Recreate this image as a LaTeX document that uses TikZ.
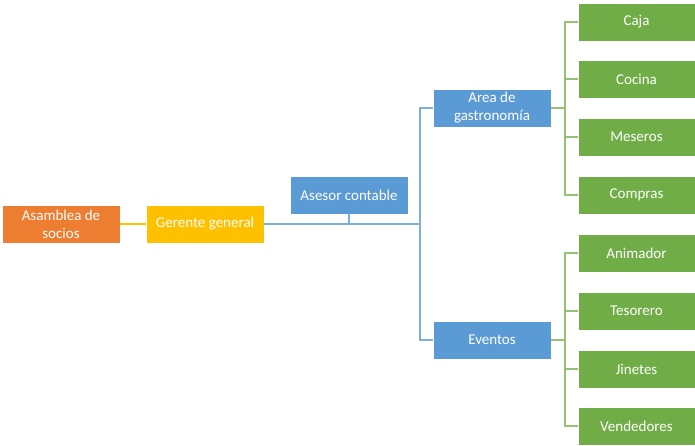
\documentclass[tikz,border=0pt]{standalone}
\usepackage{fontspec}
\setmainfont{Carlito}
\usetikzlibrary{positioning,calc}

\definecolor{naranja}{HTML}{ED7D31}
\definecolor{amarillo}{HTML}{FFC000}
\definecolor{azul}{HTML}{5B9BD5}
\definecolor{verde}{HTML}{70AD47}

\begin{document}
\begin{tikzpicture}[
        x=1pt, y=-1pt,
        font=\fontsize{15}{18}\selectfont,
        caja/.style  ={draw=white, line width=0.6pt, text=white, align=center,
                       minimum width=118pt, minimum height=38pt, inner sep=1pt},
        org/.style   ={caja, fill=naranja},
        jefe/.style  ={caja, fill=amarillo},
        area/.style  ={caja, fill=azul},
        puesto/.style={caja, fill=verde, minimum width=117pt},
        lamar/.style ={amarillo, line width=1.6pt},
        lazul/.style ={azul!80, line width=1.8pt},
        lverde/.style={verde!75, line width=1.6pt},
    ]
    \useasboundingbox (0,0) rectangle (695,445);

    % ===================== Direccion =====================
    \node[org]  (asamblea) at (61,224)  {Asamblea de\\socios};
    \node[jefe] (gerente)  at (205,224) {Gerente general};
    \node[area] (asesor)   at (349,195) {Asesor contable};

    \draw[lamar] (asamblea.east) -- (gerente.west);

    % ===================== Areas =====================
    \node[area] (gastro)  at (492,108) {Area de\\gastronomía};
    \node[area] (eventos) at (492,340) {Eventos};

    \coordinate (split) at (420,224);
    \draw[lazul] (gerente.east) -- (split);
    \draw[lazul] (asesor.south) -- (asesor.south |- split);
    \draw[lazul] (gastro.west) -| (split) |- (eventos.west);

    % ===================== Puestos =====================
    \node[puesto] (caja)       at (636.5,22)  {Caja};
    \node[puesto] (cocina)     at (636.5,79)  {Cocina};
    \node[puesto] (meseros)    at (636.5,137) {Meseros};
    \node[puesto] (compras)    at (636.5,195) {Compras};
    \node[puesto] (animador)   at (636.5,253) {Animador};
    \node[puesto] (tesorero)   at (636.5,311) {Tesorero};
    \node[puesto] (jinetes)    at (636.5,369) {Jinetes};
    \node[puesto] (vendedores) at (636.5,426) {Vendedores};

    \foreach \n in {caja,cocina,meseros,compras}{
        \draw[lverde] (gastro.east) -| ([xshift=-13pt]\n.west) -- (\n.west);
    }
    \foreach \n in {animador,tesorero,jinetes,vendedores}{
        \draw[lverde] (eventos.east) -| ([xshift=-13pt]\n.west) -- (\n.west);
    }
\end{tikzpicture}
\end{document}
